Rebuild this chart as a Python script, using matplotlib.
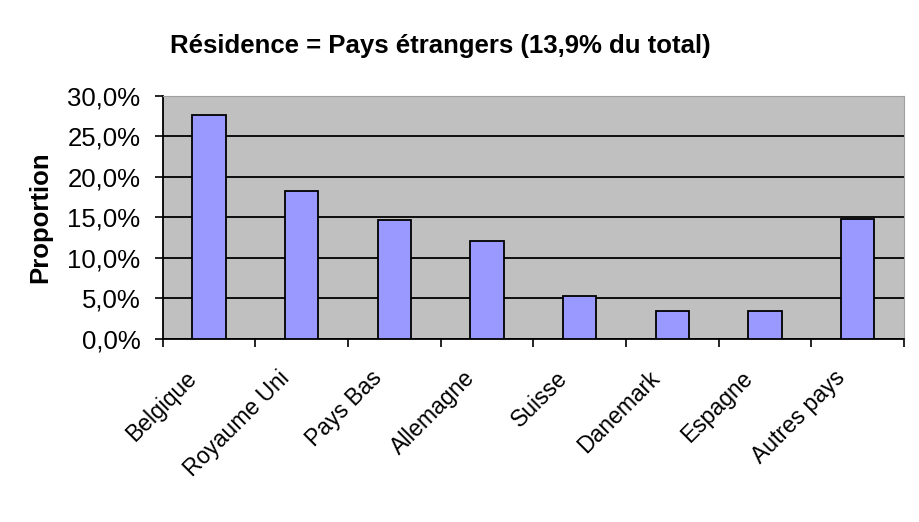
import matplotlib
matplotlib.use('Agg')
import numpy as np
import matplotlib.pyplot as plt
import matplotlib.transforms as mtransforms
from matplotlib.ticker import FuncFormatter

plt.rcParams['font.family'] = ['Liberation Sans', 'DejaVu Sans']

# data
pays = ["Belgique", "Royaume Uni", "Pays Bas", "Allemagne", "Suisse",
        "Danemark", "Espagne", "Autres pays"]
proportion = [27.6, 18.3, 14.7, 12.1, 5.2, 3.4, 3.4, 14.8]
y_ticks = [0, 5, 10, 15, 20, 25, 30]

fig = plt.figure(figsize=(9.2, 5.22), dpi=100)
ax = fig.add_axes([162.5 / 920, 1 - 338.5 / 522, 741.5 / 920, 242.5 / 522])
ax.set_facecolor('#C0C0C0')

x = np.arange(len(pays)) + 0.5
ax.bar(x, proportion, width=0.36, color='#9999FF', edgecolor='black',
       linewidth=1.3, zorder=3)

ax.set_xlim(0, len(pays))
ax.set_ylim(0, 30)
ax.set_yticks(y_ticks)
ax.yaxis.set_major_formatter(FuncFormatter(lambda v, p: f"{v:.1f}%".replace('.', ',')))
ax.grid(axis='y', color='black', linewidth=1.3, zorder=1)

# category ticks sit between the bars, labels sit under the bars
ax.set_xticks(np.arange(len(pays) + 1))
ax.set_xticklabels([])
ax.set_xticks(x, minor=True)
ax.set_xticklabels(pays, minor=True, rotation=45, ha='right', va='center',
                   rotation_mode='anchor', fontsize=16.5)
ax.tick_params(axis='x', which='minor', length=0, pad=26)
ax.tick_params(axis='x', which='major', length=6, width=1.2, direction='out')
ax.tick_params(axis='y', length=6, width=1.2, direction='out', labelsize=18.5, pad=10)

# nudge the rotated labels to the left, as in the original
shift = mtransforms.ScaledTranslation(-16 / 100, 0, fig.dpi_scale_trans)
for lbl in ax.get_xticklabels(minor=True):
    lbl.set_transform(lbl.get_transform() + shift)

for side in ['top', 'right']:
    ax.spines[side].set_color('#A0A0A0')
for side in ['left', 'bottom']:
    ax.spines[side].set_color('black')
    ax.spines[side].set_linewidth(1.3)

ax.set_ylabel("Proportion", fontsize=18.5, fontweight='bold')
ax.yaxis.set_label_coords(-0.149, 0.5)
fig.text(440 / 920, 1 - 46 / 522, "Résidence = Pays étrangers (13,9% du total)",
         ha='center', va='center', fontsize=18.5, fontweight='bold')

plt.savefig("out.png", dpi=100)
